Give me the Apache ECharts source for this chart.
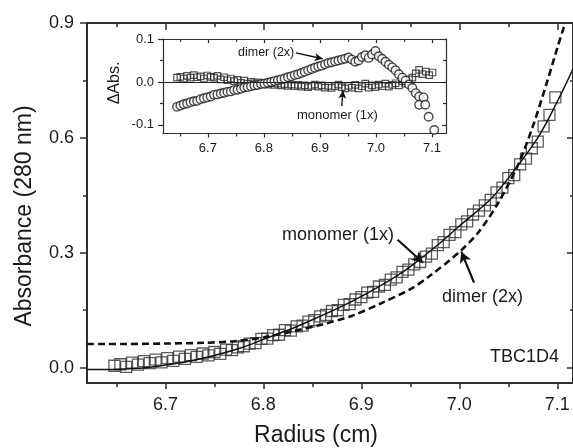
<!DOCTYPE html>
<html>
<head>
<meta charset="utf-8">
<script src="https://cdn.jsdelivr.net/npm/echarts@6/dist/echarts.min.js"></script>
<style>html,body{margin:0;padding:0;background:#fff;}#c{width:573px;height:448px;}</style>
</head>
<body>
<div id="c"></div>
<script>
// ---- main panel data ----
const radiusSq = [6.648,6.654,6.660,6.666,6.672,6.678,6.684,6.690,6.696,6.702,6.708,6.714,6.720,6.726,6.732,6.738,6.744,6.750,6.756,6.762,6.768,6.774,6.780,6.786,6.792,6.798,6.804,6.810,6.816,6.822,6.828,6.834,6.840,6.846,6.852,6.858,6.864,6.870,6.876,6.882,6.888,6.894,6.900,6.906,6.912,6.918,6.924,6.930,6.936,6.942,6.948,6.954,6.960,6.966,6.972,6.978,6.984,6.990,6.996,7.002,7.008,7.014,7.020,7.026,7.032,7.038,7.044,7.050,7.056,7.062,7.068,7.074,7.080,7.086,7.092,7.098];
const absSq = [0.005,0.009,0.002,0.013,0.008,0.017,0.012,0.021,0.014,0.025,0.018,0.029,0.023,0.033,0.028,0.037,0.032,0.041,0.036,0.047,0.046,0.053,0.056,0.063,0.064,0.075,0.076,0.085,0.086,0.098,0.097,0.108,0.110,0.120,0.124,0.134,0.138,0.148,0.150,0.164,0.166,0.178,0.184,0.196,0.198,0.212,0.216,0.230,0.236,0.250,0.256,0.270,0.276,0.290,0.298,0.320,0.328,0.347,0.354,0.374,0.382,0.400,0.410,0.424,0.438,0.458,0.470,0.495,0.503,0.531,0.546,0.573,0.590,0.630,0.660,0.706];
const fitMonoX = [6.62,6.65,6.68,6.70,6.72,6.75,6.78,6.80,6.83,6.85,6.88,6.90,6.93,6.95,6.98,7.00,7.03,7.05,7.08,7.10,7.116];
const fitMonoY = [-0.005,-0.004,0.0,0.007,0.015,0.032,0.054,0.074,0.103,0.125,0.160,0.186,0.230,0.264,0.325,0.370,0.435,0.495,0.600,0.695,0.780];
const fitDimerX = [6.62,6.66,6.70,6.74,6.77,6.80,6.83,6.86,6.89,6.92,6.95,6.97,7.00,7.02,7.04,7.06,7.075,7.09,7.10,7.108];
const fitDimerY = [0.062,0.062,0.063,0.065,0.069,0.079,0.095,0.113,0.135,0.168,0.205,0.240,0.302,0.355,0.432,0.530,0.630,0.750,0.835,0.900];
const mainXTicks = [6.7,6.8,6.9,7.0,7.1];
const mainXMinor = [6.65,6.75,6.85,6.95,7.05];
const mainYTicks = [0.0,0.3,0.6,0.9];
const mainYMinor = [0.15,0.45,0.75];

// ---- inset (residuals) data ----
const resX = [6.645,6.651,6.657,6.663,6.669,6.675,6.681,6.687,6.693,6.699,6.705,6.711,6.717,6.723,6.729,6.735,6.741,6.747,6.753,6.759,6.765,6.771,6.777,6.783,6.789,6.795,6.801,6.807,6.813,6.819,6.825,6.831,6.837,6.843,6.849,6.855,6.861,6.867,6.873,6.879,6.885,6.891,6.897,6.903,6.909,6.915,6.921,6.927,6.933,6.939,6.945,6.951,6.957,6.963,6.969,6.975,6.981,6.987,6.993,6.999,7.005,7.011,7.017,7.023,7.029,7.035,7.041,7.047,7.053,7.059,7.065,7.071,7.077,7.083,7.089,7.095,7.101];
const resMono = [0.010,0.012,0.008,0.014,0.010,0.016,0.011,0.013,0.008,0.015,0.012,0.010,0.014,0.006,0.011,0.004,0.008,0.002,0.005,-0.002,0.003,-0.004,0.000,-0.003,-0.001,-0.005,-0.002,-0.006,-0.003,-0.007,-0.004,-0.008,-0.005,-0.009,-0.006,-0.010,-0.007,-0.011,-0.008,-0.012,-0.009,-0.006,-0.011,-0.008,-0.013,-0.009,-0.014,-0.010,-0.006,-0.012,-0.015,-0.009,-0.013,-0.007,-0.015,-0.010,-0.004,-0.013,-0.008,-0.012,-0.006,-0.010,-0.004,-0.011,-0.007,-0.003,-0.008,0.002,-0.004,0.006,0.010,0.020,0.028,0.018,0.024,0.016,0.022];
const resDimerX = [6.645,6.651,6.657,6.663,6.669,6.675,6.681,6.687,6.693,6.699,6.705,6.711,6.717,6.723,6.729,6.735,6.741,6.747,6.753,6.759,6.765,6.771,6.777,6.783,6.789,6.795,6.801,6.807,6.813,6.819,6.825,6.831,6.837,6.843,6.849,6.855,6.861,6.867,6.873,6.879,6.885,6.891,6.897,6.903,6.909,6.915,6.921,6.927,6.933,6.939,6.945,6.951,6.957,6.963,6.969,6.975,6.981,6.987,6.993,6.999,7.005,7.011,7.017,7.023,7.029,7.035,7.041,7.047,7.053,7.059,7.065,7.071,7.077,7.077,7.085,7.088,7.094,7.104];
const resDimer = [-0.058,-0.055,-0.052,-0.050,-0.047,-0.045,-0.044,-0.040,-0.038,-0.036,-0.034,-0.030,-0.029,-0.027,-0.025,-0.023,-0.022,-0.019,-0.018,-0.016,-0.013,-0.012,-0.010,-0.008,-0.007,-0.005,-0.004,-0.002,0.000,0.002,0.004,0.006,0.008,0.011,0.013,0.016,0.018,0.021,0.024,0.027,0.030,0.033,0.036,0.038,0.041,0.044,0.046,0.048,0.050,0.052,0.054,0.057,0.052,0.047,0.050,0.058,0.062,0.056,0.064,0.072,0.060,0.054,0.047,0.040,0.034,0.027,0.018,0.010,0.003,-0.006,-0.014,-0.026,-0.034,-0.053,-0.036,-0.053,-0.081,-0.112];
const insetXTicks = [6.7,6.8,6.9,7.0,7.1];
const insetXMinor = [6.65,6.75,6.85,6.95,7.05];
const insetYTicks = [-0.1,0.0,0.1];
const insetYMinor = [-0.05,0.05];

// arrows in data coordinates: [fromX, fromY, toX, toY]
const arrowsMain = [[6.937,0.334,6.963,0.274],[7.015,0.222,7.002,0.303]];
const arrowsInset = [[6.857,0.0675,6.905,0.054],[6.939,-0.056,6.941,-0.020]];

const FONT = "'Liberation Sans', Arial, sans-serif";
const AX = '#2e2e2e', TXT = '#1a1a1a';
const zip = (a, b) => a.map((v, i) => [v, b[i]]);

function axis(kind, o) {
  return {
    type: 'value', gridIndex: o.grid, position: o.pos, min: o.min, max: o.max,
    splitLine: { show: false },
    axisLine: { show: !!o.line, onZero: false, lineStyle: { color: AX, width: o.lw || 2 } },
    axisTick: { show: true, inside: !!o.inside, length: o.len, customValues: o.ticks, lineStyle: { color: AX, width: o.lw || 1.5 } },
    axisLabel: o.labels ? { show: true, customValues: o.ticks, margin: o.margin, color: TXT, fontSize: o.fs, fontFamily: FONT, formatter: v => Number(v).toFixed(1) } : { show: false }
  };
}

const mx = [6.62, 7.116], my = [-0.04, 0.9];
const ix = [6.62, 7.125], iy = [-0.12, 0.1];

const xAxes = [
  axis('x', {grid:0, pos:'bottom', min:mx[0], max:mx[1], line:true, len:6, ticks:mainXTicks, labels:true, margin:13, fs:18}),
  axis('x', {grid:0, pos:'bottom', min:mx[0], max:mx[1], len:4, ticks:mainXMinor}),
  axis('x', {grid:0, pos:'top', min:mx[0], max:mx[1], line:true, inside:true, len:7, ticks:mainXTicks}),
  axis('x', {grid:0, pos:'top', min:mx[0], max:mx[1], inside:true, len:4, ticks:mainXMinor}),
  axis('x', {grid:1, pos:'bottom', min:ix[0], max:ix[1], line:true, len:4, ticks:insetXTicks, labels:true, margin:8, fs:13, lw:1.2}),
  axis('x', {grid:1, pos:'bottom', min:ix[0], max:ix[1], len:3, ticks:insetXMinor, lw:1.2}),
  axis('x', {grid:1, pos:'top', min:ix[0], max:ix[1], line:true, inside:true, len:4, ticks:insetXTicks, lw:1.2}),
  axis('x', {grid:1, pos:'top', min:ix[0], max:ix[1], inside:true, len:3, ticks:insetXMinor, lw:1.2})
];
const yAxes = [
  axis('y', {grid:0, pos:'left', min:my[0], max:my[1], line:true, len:7, ticks:mainYTicks, labels:true, margin:13, fs:18}),
  axis('y', {grid:0, pos:'left', min:my[0], max:my[1], len:4, ticks:mainYMinor}),
  axis('y', {grid:0, pos:'right', min:my[0], max:my[1], line:true, inside:true, len:6, ticks:mainYTicks}),
  axis('y', {grid:0, pos:'right', min:my[0], max:my[1], inside:true, len:3, ticks:mainYMinor}),
  axis('y', {grid:1, pos:'left', min:iy[0], max:iy[1], line:true, len:5, ticks:insetYTicks, labels:true, margin:9, fs:13, lw:1.2}),
  axis('y', {grid:1, pos:'left', min:iy[0], max:iy[1], len:3, ticks:insetYMinor, lw:1.2}),
  axis('y', {grid:1, pos:'right', min:iy[0], max:iy[1], line:true, inside:true, len:4, ticks:insetYTicks, lw:1.2}),
  axis('y', {grid:1, pos:'right', min:iy[0], max:iy[1], inside:true, len:3, ticks:insetYMinor, lw:1.2})
];

function arrowMark(list, size, width) {
  return {
    silent: true, animation: false, symbol: ['none', 'arrow'], symbolSize: size,
    lineStyle: { color: '#111', width: width, type: 'solid' }, label: { show: false },
    data: list.map(a => [{ coord: [a[0], a[1]] }, { coord: [a[2], a[3]] }])
  };
}

const option = {
  animation: false,
  backgroundColor: '#fff',
  grid: [
    { left: 87, top: 23, width: 486, height: 360 },
    { left: 163, top: 39, width: 283, height: 94.5 }
  ],
  xAxis: xAxes,
  yAxis: yAxes,
  series: [
    { type: 'scatter', xAxisIndex: 0, yAxisIndex: 0, symbol: 'rect', symbolSize: 11,
      itemStyle: { color: 'rgba(255,255,255,0)', borderColor: '#333', borderWidth: 1.3 },
      data: zip(radiusSq, absSq), markLine: arrowMark(arrowsMain, [9, 11], 2.2) },
    { type: 'line', xAxisIndex: 0, yAxisIndex: 0, showSymbol: false, smooth: 0.3,
      lineStyle: { color: '#111', width: 1.5 }, data: zip(fitMonoX, fitMonoY) },
    { type: 'line', xAxisIndex: 0, yAxisIndex: 0, showSymbol: false, smooth: 0.3,
      lineStyle: { color: '#111', width: 2.6, type: [7, 4] }, data: zip(fitDimerX, fitDimerY) },
    { type: 'scatter', xAxisIndex: 4, yAxisIndex: 4, symbol: 'rect', symbolSize: 6.5,
      itemStyle: { color: 'rgba(255,255,255,0)', borderColor: '#2a2a2a', borderWidth: 1.2 },
      data: zip(resX, resMono),
      markLine: { silent: true, symbol: 'none', label: { show: false }, lineStyle: { color: '#222', width: 1, type: 'solid' }, data: [{ yAxis: 0 }] } },
    { type: 'scatter', xAxisIndex: 4, yAxisIndex: 4, symbol: 'circle', symbolSize: 8.5,
      itemStyle: { color: '#fff', borderColor: '#1a1a1a', borderWidth: 1.4 },
      data: zip(resDimerX, resDimer), markLine: arrowMark(arrowsInset, [6, 8], 1.3) }
  ],
  graphic: [
    { type: 'text', x: 25, y: 216, rotation: Math.PI / 2, style: { text: 'Absorbance (280 nm)', font: '23px ' + FONT, fill: TXT, align: 'center', verticalAlign: 'middle' } },
    { type: 'text', x: 316, y: 436, style: { text: 'Radius (cm)', font: '23px ' + FONT, fill: TXT, align: 'center', verticalAlign: 'middle' } },
    { type: 'text', x: 282, y: 235, style: { text: 'monomer (1x)', font: '18px ' + FONT, fill: TXT, verticalAlign: 'middle' } },
    { type: 'text', x: 442, y: 297, style: { text: 'dimer (2x)', font: '18px ' + FONT, fill: TXT, verticalAlign: 'middle' } },
    { type: 'text', x: 490, y: 357, style: { text: 'TBC1D4', font: '18px ' + FONT, fill: TXT, verticalAlign: 'middle' } },
    { type: 'text', x: 238, y: 53, style: { text: 'dimer (2x)', font: '12.5px ' + FONT, fill: TXT, verticalAlign: 'middle' } },
    { type: 'text', x: 297, y: 115, style: { text: 'monomer (1x)', font: '13px ' + FONT, fill: TXT, verticalAlign: 'middle' } },
    { type: 'text', x: 115, y: 83, rotation: Math.PI / 2, style: { text: 'ΔAbs.', font: '16px ' + FONT, fill: TXT, align: 'center', verticalAlign: 'middle' } }
  ]
};
const chart = echarts.init(document.getElementById('c'), null, { renderer: 'canvas' });
chart.setOption(option);
</script>
</body>
</html>
